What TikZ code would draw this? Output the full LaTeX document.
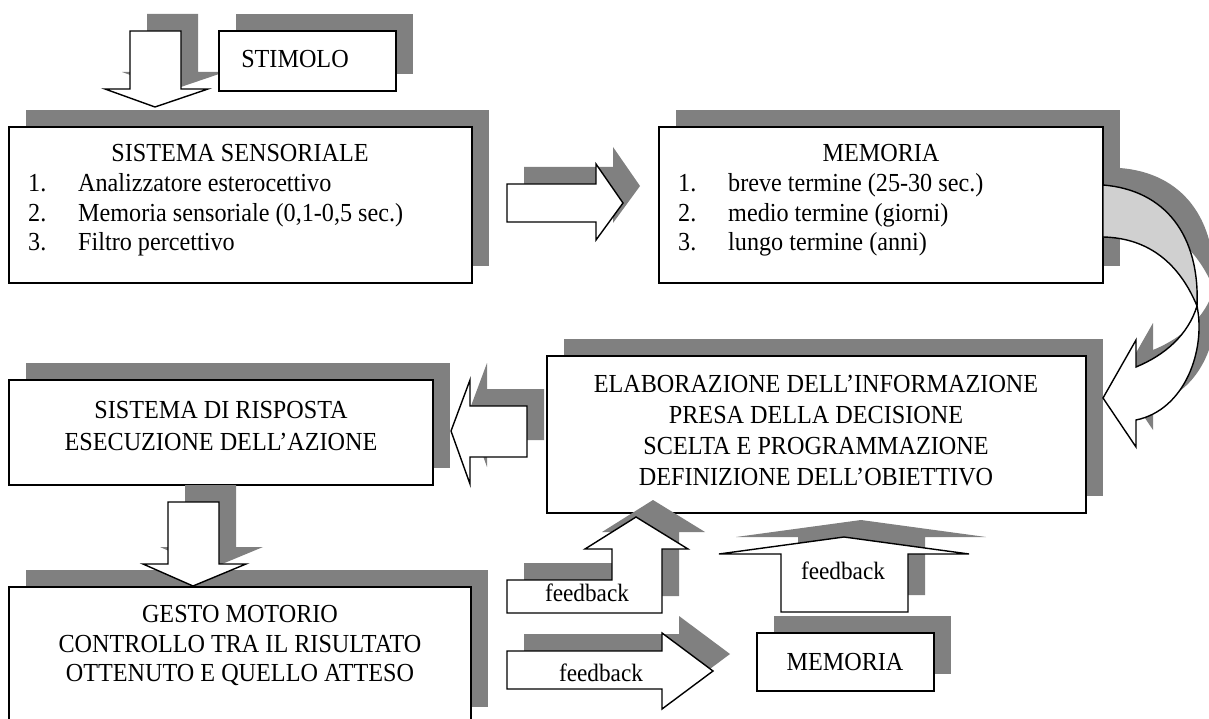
\documentclass[tikz,border=0pt]{standalone}
\usepackage{fontspec}
\setmainfont{Liberation Serif}[FakeStretch=0.93]
\usetikzlibrary{shadows}
\definecolor{shd}{RGB}{128,128,128}
\definecolor{band}{RGB}{208,208,208}
\tikzset{
  box/.style={draw=black, line width=1.6pt, fill=white, rectangle, inner sep=0pt,
    drop shadow={shadow xshift=17pt, shadow yshift=17pt, fill=shd, opacity=1}},
  blk/.style={draw=black, line width=1.4pt, fill=white, line join=miter},
  txt/.style={anchor=base, inner sep=0pt, font=\fontsize{26}{30}\selectfont},
  txtl/.style={anchor=base west, inner sep=0pt, font=\fontsize{26}{30}\selectfont},
  fb/.style={anchor=base, inner sep=0pt, font=\fontsize{25}{29}\selectfont},
}
\begin{document}
\begin{tikzpicture}[x=1pt,y=-1pt]
\useasboundingbox (0,0) rectangle (1209,719);
\clip (0,0) rectangle (1209,719);
\fill[white] (0,0) rectangle (1209,719);

% path definitions
\def\pStim{(130,31) -- (181,31) -- (181,89) -- (208,89) -- (155,107) -- (105,89) -- (130,89) -- cycle}
\def\pRight{(507,184) -- (596,184) -- (596,164) -- (623,203) -- (596,240) -- (596,222) -- (507,222) -- cycle}
\def\pLeft{(527,406) -- (470,406) -- (470,380) -- (451,431) -- (470,484) -- (470,457) -- (527,457) -- cycle}
\def\pDown{(168,502) -- (219,502) -- (219,564) -- (246,564) -- (193,586) -- (143,564) -- (168,564) -- cycle}
\def\pFbL{(507,613) -- (507,580) -- (612,580) -- (612,549) -- (585,549) -- (636,517) -- (688,549) -- (662,549) -- (662,613) -- cycle}
\def\pFbR{(507,651) -- (662,651) -- (662,633) -- (713,671) -- (662,709) -- (662,689) -- (507,689) -- cycle}
\def\pFbU{(781,612) -- (781,554) -- (719,554) -- (844,537) -- (969,554) -- (908,554) -- (908,612) -- cycle}
\def\pBand{(1103,185) .. controls (1165,190) and (1200,235) .. (1197,306) .. controls (1180,265) and (1150,238) .. (1103,237) -- cycle}
\def\pHead{(1197,306) .. controls (1206,350) and (1185,410) .. (1136,420) -- (1136,447) -- (1103,398) -- (1136,340) -- (1136,367) .. controls (1165,355) and (1188,335) .. (1197,306) -- cycle}

% top arrow (behind stimolo box)
\fill[shd,shift={(17,-17)}] \pStim;
\draw[blk] \pStim;

% boxes
\node[box, minimum width=177pt, minimum height=60pt] (stim) at (307.5,61) {};
\node[box, minimum width=463pt, minimum height=156pt] (sens) at (240.5,205) {};
\node[box, minimum width=444pt, minimum height=156pt] (mem1) at (881,205) {};
\node[box, minimum width=539pt, minimum height=157pt] (elab) at (816.5,434.5) {};
\node[box, minimum width=424pt, minimum height=105pt] (risp) at (221,432.5) {};
\node[box, minimum width=462pt, minimum height=137pt] (gesto) at (240,655.5) {};
\node[box, minimum width=177pt, minimum height=58pt] (mem2) at (845.5,662) {};

% arrows
\fill[shd,shift={(17,-17)}] \pRight;
\draw[blk] \pRight;
\fill[shd,shift={(17,-17)}] \pLeft;
\draw[blk] \pLeft;
\fill[shd,shift={(17,-17)}] \pDown;
\draw[blk] \pDown;
\fill[shd,shift={(17,-17)}] \pFbL;
\draw[blk] \pFbL;
\fill[shd,shift={(17,-17)}] \pFbR;
\draw[blk] \pFbR;
\fill[shd,shift={(17,-17)}] \pFbU;
\draw[blk] \pFbU;
\fill[shd,shift={(17,-17)}] \pBand;
\fill[shd,shift={(17,-17)}] \pHead;
\draw[blk, fill=band] \pBand;
\draw[blk] \pHead;

% texts
\node[txt] (tstim) at (295,68) {STIMOLO};
\node[txt] (ts0) at (240,162) {SISTEMA SENSORIALE};
\node[txtl] (ts1n) at (28,192) {1.};
\node[txtl] (ts1) at (78,192) {Analizzatore esterocettivo};
\node[txtl] (ts2n) at (28,222) {2.};
\node[txtl] (ts2) at (78,222) {Memoria sensoriale (0,1-0,5 sec.)};
\node[txtl] (ts3n) at (28,251) {3.};
\node[txtl] (ts3) at (78,251) {Filtro percettivo};

\node[txt] (tm0) at (881,162) {MEMORIA};
\node[txtl] (tm1n) at (678,192) {1.};
\node[txtl] (tm1) at (728,192) {breve termine (25-30 sec.)};
\node[txtl] (tm2n) at (678,222) {2.};
\node[txtl] (tm2) at (728,222) {medio termine (giorni)};
\node[txtl] (tm3n) at (678,251) {3.};
\node[txtl] (tm3) at (728,251) {lungo termine (anni)};

\node[txt] (te1) at (816,392) {ELABORAZIONE DELL’INFORMAZIONE};
\node[txt] (te2) at (816,423) {PRESA DELLA DECISIONE};
\node[txt] (te3) at (816,454) {SCELTA E PROGRAMMAZIONE};
\node[txt] (te4) at (816,485) {DEFINIZIONE DELL’OBIETTIVO};

\node[txt] (tr1) at (221,418) {SISTEMA DI RISPOSTA};
\node[txt] (tr2) at (221,450) {ESECUZIONE DELL’AZIONE};

\node[txt] (tg1) at (240,622) {GESTO MOTORIO};
\node[txt] (tg2) at (240,652) {CONTROLLO TRA IL RISULTATO};
\node[txt] (tg3) at (240,681) {OTTENUTO E QUELLO ATTESO};

\node[txt] (tmem2) at (845,670) {MEMORIA};
\node[fb] (fb1) at (587,601) {feedback};
\node[fb] (fb2) at (601,681) {feedback};
\node[fb] (fb3) at (843,579) {feedback};
\end{tikzpicture}
\end{document}
